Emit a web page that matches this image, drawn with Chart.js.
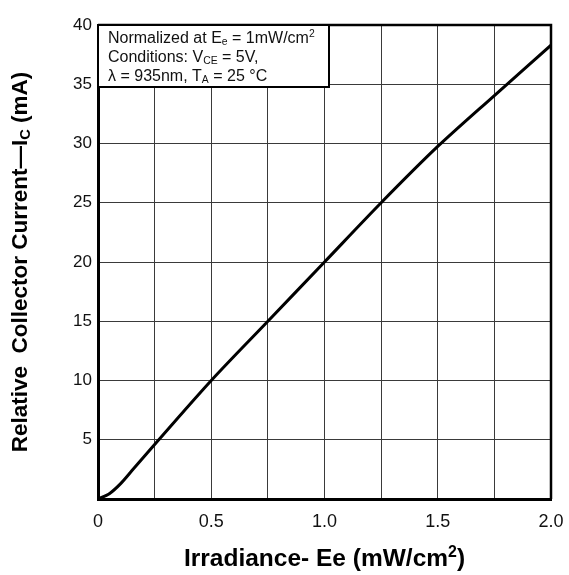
<!DOCTYPE html>
<html>
<head>
<meta charset="utf-8">
<script src="https://cdn.jsdelivr.net/npm/chart.js@4"></script>
<style>
  html, body { margin: 0; padding: 0; background: #fff; }
  canvas { display: block; }
</style>
</head>
<body>
<canvas id="c" width="569" height="575"></canvas>
<script>
// ---- data ----
const irradiance = [0, 0.05, 0.1, 0.15, 0.2, 0.25, 0.5, 0.75, 1.0, 1.25, 1.5, 1.75, 2.0];
const relativeCurrent = [0, 0.45, 1.3, 2.4, 3.5, 4.6, 10, 15, 20, 25, 29.75, 34.05, 38.3];
const xTickLabels = ['0', '', '0.5', '', '1.0', '', '1.5', '', '2.0'];
const yTickLabels = ['', '5', '10', '15', '20', '25', '30', '35', '40'];
const xTitle = [{t: 'Irradiance- Ee (mW/cm'}, {t: '2', s: 'sup'}, {t: ')'}];
const yTitle = [{t: 'Relative  Collector Current\u2014I'}, {t: 'C', s: 'sub'}, {t: ' (mA)'}];
const noteLines = [
  [{t: 'Normalized at E'}, {t: 'e', s: 'sub'}, {t: ' = 1mW/cm'}, {t: '2', s: 'sup'}],
  [{t: 'Conditions: V'}, {t: 'CE', s: 'sub'}, {t: ' = 5V,'}],
  [{t: '\u03bb = 935nm, T'}, {t: 'A', s: 'sub'}, {t: ' = 25 \u00b0C'}]
];

const FONT = '"Liberation Sans", Arial, sans-serif';

function richWidth(ctx, segs, size, weight) {
  let w = 0;
  for (const sg of segs) {
    const fs = sg.s ? size * 0.65 : size;
    ctx.font = weight + ' ' + fs + 'px ' + FONT;
    w += ctx.measureText(sg.t).width;
  }
  return w;
}
function drawRich(ctx, segs, x, y, size, weight, align) {
  let w = richWidth(ctx, segs, size, weight);
  let cx = align === 'center' ? x - w / 2 : x;
  ctx.textBaseline = 'alphabetic';
  ctx.textAlign = 'left';
  for (const sg of segs) {
    const fs = sg.s ? size * 0.65 : size;
    ctx.font = weight + ' ' + fs + 'px ' + FONT;
    let dy = 0;
    if (sg.s === 'sub') dy = size * 0.12;
    if (sg.s === 'sup') dy = -size * 0.38;
    ctx.fillText(sg.t, cx, y + dy);
    cx += ctx.measureText(sg.t).width;
  }
}

const decor = {
  id: 'decor',
  afterDraw(chart) {
    const ctx = chart.ctx;
    const ca = chart.chartArea;
    ctx.save();
    ctx.fillStyle = '#000';
    ctx.strokeStyle = '#000';
    // top & right frame
    ctx.lineWidth = 2.5;
    ctx.beginPath();
    ctx.moveTo(ca.left, ca.top);
    ctx.lineTo(ca.right, ca.top);
    ctx.lineTo(ca.right, ca.bottom);
    ctx.stroke();
    // note box
    const bx = ca.left, by = ca.top, bw = 231, bh = 62;
    ctx.fillStyle = '#fff';
    ctx.fillRect(bx, by, bw, bh);
    ctx.lineWidth = 2;
    ctx.strokeRect(bx, by, bw, bh);
    ctx.fillStyle = '#111';
    noteLines.forEach((ln, i) => drawRich(ctx, ln, bx + 10, by + 18 + i * 19, 16, 'normal', 'left'));
    // axis titles
    ctx.fillStyle = '#000';
    drawRich(ctx, xTitle, (ca.left + ca.right) / 2, 566, 24.5, 'bold', 'center');
    ctx.translate(27, (ca.top + ca.bottom) / 2);
    ctx.rotate(-Math.PI / 2);
    drawRich(ctx, yTitle, 0, 0, 22.5, 'bold', 'center');
    ctx.restore();
  }
};

new Chart(document.getElementById('c'), {
  type: 'line',
  data: {
    datasets: [{
      data: irradiance.map((x, i) => ({x: x, y: relativeCurrent[i]})),
      borderColor: '#000',
      borderWidth: 3,
      pointRadius: 0,
      tension: 0.3,
      fill: false
    }]
  },
  options: {
    responsive: false,
    animation: false,
    layout: {padding: {top: 25, right: 18, left: 0, bottom: 0}},
    plugins: {legend: {display: false}, tooltip: {enabled: false}},
    scales: {
      x: {
        type: 'linear', min: 0, max: 2,
        afterFit: s => { s.height = 76; s.paddingLeft = 0; s.paddingRight = 0; },
        border: {display: true, color: '#000', width: 3},
        grid: {color: '#3a3a3a', lineWidth: 1, drawTicks: false},
        ticks: {
          stepSize: 0.25, padding: 12, color: '#111', autoSkip: false, maxRotation: 0,
          font: {family: FONT, size: 18},
          callback: (v, i) => xTickLabels[i]
        }
      },
      y: {
        type: 'linear', min: 0, max: 40,
        afterFit: s => { s.width = 98; s.paddingTop = 0; s.paddingBottom = 0; },
        border: {display: true, color: '#000', width: 3},
        grid: {color: '#3a3a3a', lineWidth: 1, drawTicks: false},
        ticks: {
          stepSize: 5, padding: 6, color: '#111', autoSkip: false,
          font: {family: FONT, size: 17},
          callback: (v, i) => yTickLabels[i]
        }
      }
    }
  },
  plugins: [decor]
});
</script>
</body>
</html>
